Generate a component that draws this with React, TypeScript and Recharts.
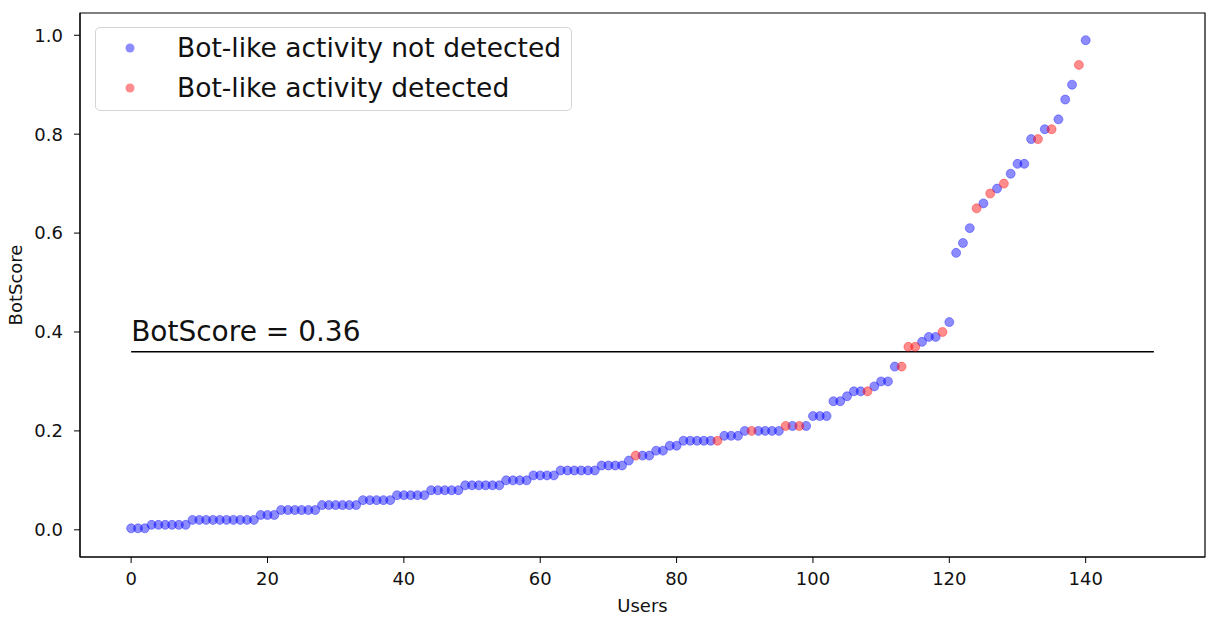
import {
  ScatterChart, Scatter,
  XAxis, YAxis, ReferenceLine, ReferenceArea,
  Legend, Label,
} from 'recharts';

// BotScore per user, sorted ascending (user index = position in the list)
const botScores = [
  0.003, 0.003, 0.003,
  0.01, 0.01, 0.01, 0.01, 0.01, 0.01,
  0.02, 0.02, 0.02, 0.02, 0.02, 0.02, 0.02, 0.02, 0.02, 0.02,
  0.03, 0.03, 0.03,
  0.04, 0.04, 0.04, 0.04, 0.04, 0.04,
  0.05, 0.05, 0.05, 0.05, 0.05, 0.05,
  0.06, 0.06, 0.06, 0.06, 0.06,
  0.07, 0.07, 0.07, 0.07, 0.07,
  0.08, 0.08, 0.08, 0.08, 0.08,
  0.09, 0.09, 0.09, 0.09, 0.09, 0.09,
  0.10, 0.10, 0.10, 0.10,
  0.11, 0.11, 0.11, 0.11,
  0.12, 0.12, 0.12, 0.12, 0.12, 0.12,
  0.13, 0.13, 0.13, 0.13,
  0.14,
  0.15, 0.15, 0.15,
  0.16, 0.16,
  0.17, 0.17,
  0.18, 0.18, 0.18, 0.18, 0.18, 0.18,
  0.19, 0.19, 0.19,
  0.20, 0.20, 0.20, 0.20, 0.20, 0.20,
  0.21, 0.21, 0.21, 0.21,
  0.23, 0.23, 0.23,
  0.26, 0.26,
  0.27,
  0.28, 0.28, 0.28,
  0.29,
  0.30, 0.30,
  0.33, 0.33,
  0.37, 0.37,
  0.38,
  0.39, 0.39,
  0.40,
  0.42,
  0.56, 0.58, 0.61, 0.65, 0.66, 0.68, 0.69, 0.70, 0.72,
  0.74, 0.74, 0.79, 0.79, 0.81, 0.81, 0.83, 0.87, 0.90, 0.94, 0.99,
];

// users flagged with bot-like activity
const detectedUsers = [74, 86, 91, 96, 98, 108, 113, 114, 115, 119, 124, 126, 128, 133, 135, 139];

const xTicks = [0, 20, 40, 60, 80, 100, 120, 140];
const yTicks = [0, 0.2, 0.4, 0.6, 0.8, 1.0];
const xDomain = [-7.5, 157.5];
const yDomain = [-0.055, 1.045];
const threshold = 0.36;
const thresholdEnd = 150;

const points = botScores.map((score, user) => ({ user, score }));
const notDetected = points.filter((p) => !detectedUsers.includes(p.user));
const detected = points.filter((p) => detectedUsers.includes(p.user));

const FONT = '"DejaVu Sans", sans-serif';
const TEXT = '#111';

const dot = (color: string) => (p: any) => (
  <circle cx={p.cx} cy={p.cy} r={4.5} fill={color} fillOpacity={0.45}
    stroke={color} strokeOpacity={0.35} strokeWidth={1} />
);

const LegendBox = () => (
  <div style={{
    width: 477, height: 84, boxSizing: 'border-box',
    border: '1px solid #d4d4d4', borderRadius: 5,
    background: 'rgba(255,255,255,0.8)',
    fontFamily: FONT, fontSize: 26.5, color: TEXT,
  }}>
    {[
      { name: 'Bot-like activity not detected', color: 'blue' },
      { name: 'Bot-like activity detected', color: 'red' },
    ].map((item) => (
      <div key={item.name} style={{ height: 40, lineHeight: '40px', position: 'relative', whiteSpace: 'nowrap' }}>
        <svg width={10} height={10} style={{ position: 'absolute', left: 29, top: 15 }}>
          <circle cx={5} cy={5} r={4.5} fill={item.color} fillOpacity={0.45} />
        </svg>
        <span style={{ position: 'absolute', left: 81 }}>{item.name}</span>
      </div>
    ))}
  </div>
);

export default function App() {
  return (
    <div style={{ position: 'absolute', left: 0, top: 0 }}>
      <ScatterChart width={1217} height={620} margin={{ top: 13, right: 12, bottom: 0, left: 0 }}>
        <XAxis type="number" dataKey="user" domain={xDomain} ticks={xTicks}
          allowDataOverflow height={63}
          tick={{ fontFamily: FONT, fontSize: 18, fill: TEXT }}
          tickSize={6} tickMargin={9}
          axisLine={{ stroke: '#000' }} tickLine={{ stroke: '#000' }}>
          <Label content={(props: any) => {
            const vb = props.viewBox;
            return (
              <text x={vb.x + vb.width / 2} y={vb.y + 55} textAnchor="middle"
                fontFamily={FONT} fontSize={18} fill={TEXT}>Users</text>
            );
          }} />
        </XAxis>
        <YAxis type="number" dataKey="score" domain={yDomain} ticks={yTicks}
          allowDataOverflow width={80}
          tickFormatter={(v: number) => v.toFixed(1)}
          tick={{ fontFamily: FONT, fontSize: 18, fill: TEXT }}
          tickSize={6} tickMargin={11}
          axisLine={{ stroke: '#000' }} tickLine={{ stroke: '#000' }}>
          <Label content={(props: any) => {
            const vb = props.viewBox;
            const cx = vb.x + 15;
            const cy = vb.y + vb.height / 2;
            return (
              <text x={cx} y={cy} transform={`rotate(-90, ${cx}, ${cy})`} textAnchor="middle"
                dominantBaseline="central" fontFamily={FONT} fontSize={18} fill={TEXT}>BotScore</text>
            );
          }} />
        </YAxis>
        <ReferenceArea x1={xDomain[0]} x2={xDomain[1]} y1={yDomain[0]} y2={yDomain[1]}
          fill="none" stroke="#000" strokeWidth={1.2} fillOpacity={0} />
        <Scatter name="Bot-like activity not detected" data={notDetected}
          shape={dot('blue')} isAnimationActive={false} />
        <Scatter name="Bot-like activity detected" data={detected}
          shape={dot('red')} isAnimationActive={false} />
        <ReferenceLine segment={[{ x: 0, y: threshold }, { x: thresholdEnd, y: threshold }]}
          stroke="#000" strokeWidth={1.5}
          label={(props: any) => {
            const vb = props.viewBox;
            return (
              <text x={vb.x} y={vb.y - 11} fontFamily={FONT} fontSize={28} fill={TEXT}>
                BotScore = {threshold}
              </text>
            );
          }} />
        <Legend layout="vertical" align="center" verticalAlign="middle"
          wrapperStyle={{ left: 95, top: 27, width: 477, height: 84 }}
          content={() => <LegendBox />} />
      </ScatterChart>
    </div>
  );
}
